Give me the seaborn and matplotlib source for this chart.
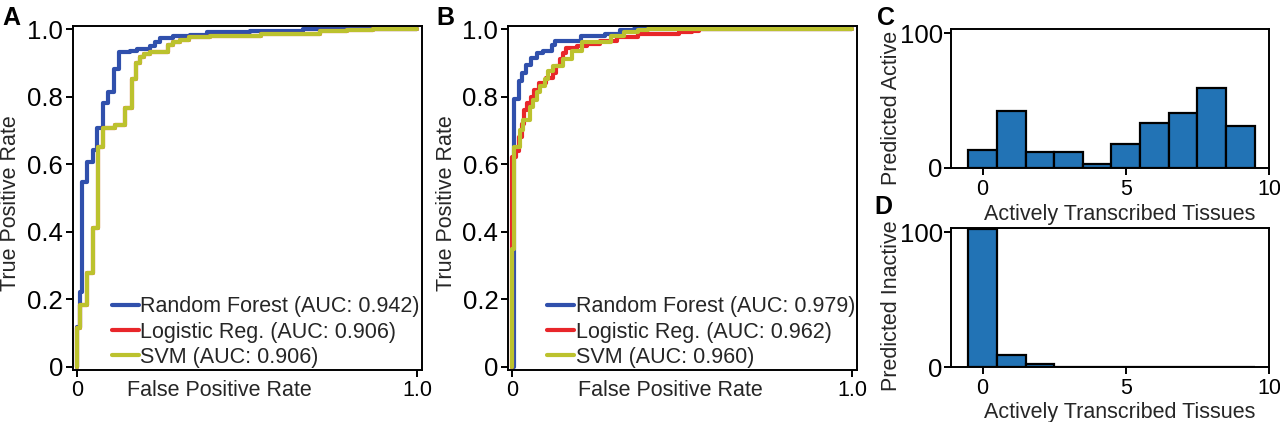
import matplotlib
matplotlib.use('Agg')
import matplotlib.pyplot as plt
import seaborn as sns
import pandas as pd

# ROC curve corner points (panel A: first test set)
rf_a_fpr = [0, 0, 0.009, 0.016, 0.028, 0.046, 0.060, 0.077, 0.092, 0.109, 0.124, 0.156, 0.175,
            0.215, 0.229, 0.244, 0.283, 0.332, 0.381, 0.51, 0.665, 1.0]
rf_a_tpr = [0, 0.118, 0.222, 0.548, 0.607, 0.642, 0.706, 0.780, 0.814, 0.883, 0.932, 0.935, 0.940,
            0.950, 0.962, 0.972, 0.979, 0.982, 0.990, 0.994, 1.0, 1.0]
svm_a_fpr = [0, 0, 0.009, 0.028, 0.046, 0.063, 0.077, 0.112, 0.141, 0.161, 0.174, 0.185, 0.197,
             0.215, 0.269, 0.283, 0.303, 0.33, 0.39, 0.54, 0.715, 0.793, 0.87, 1.0]
svm_a_tpr = [0, 0.115, 0.183, 0.278, 0.41, 0.652, 0.706, 0.716, 0.765, 0.853, 0.90, 0.917, 0.926,
             0.931, 0.953, 0.962, 0.969, 0.975, 0.98, 0.985, 0.993, 0.997, 1.0, 1.0]
# logistic regression sits exactly under the SVM curve in panel A
lr_a_fpr = svm_a_fpr
lr_a_tpr = svm_a_tpr

# panel B
rf_b_fpr = [0, 0.005, 0.007, 0.02, 0.030, 0.040, 0.056, 0.072, 0.092, 0.116, 0.126, 0.204,
            0.273, 0.317, 0.36, 1.0]
rf_b_tpr = [0, 0.65, 0.793, 0.846, 0.870, 0.895, 0.915, 0.929, 0.934, 0.953, 0.966, 0.980,
            0.986, 0.996, 1.0, 1.0]
lr_b_fpr = [0, 0, 0, 0.01, 0.02, 0.03, 0.035, 0.045, 0.055, 0.065, 0.08, 0.10, 0.12, 0.13, 0.14,
            0.15, 0.16, 0.19, 0.22, 0.26, 0.31, 0.37, 0.49, 0.53, 0.55, 1.0]
lr_b_tpr = [0, 0.36, 0.62, 0.64, 0.68, 0.72, 0.76, 0.78, 0.80, 0.82, 0.84, 0.855, 0.87, 0.89, 0.91,
            0.93, 0.945, 0.95, 0.955, 0.965, 0.975, 0.985, 0.99, 0.995, 1.0, 1.0]
svm_b_fpr = [0, 0, 0.007, 0.023, 0.033, 0.053, 0.062, 0.072, 0.082, 0.097, 0.106, 0.12, 0.15,
             0.175, 0.205, 0.29, 0.33, 0.37, 0.4, 1.0]
svm_b_tpr = [0, 0.35, 0.65, 0.70, 0.73, 0.77, 0.79, 0.815, 0.83, 0.853, 0.875, 0.89, 0.91,
             0.935, 0.962, 0.978, 0.99, 0.997, 1.0, 1.0]

labels_a = ['Random Forest (AUC: 0.942)', 'Logistic Reg. (AUC: 0.906)', 'SVM (AUC: 0.906)']
labels_b = ['Random Forest (AUC: 0.979)', 'Logistic Reg. (AUC: 0.962)', 'SVM (AUC: 0.960)']
colors = ['#3050ac', '#e8262a', '#bcc22e']

# histogram counts per number of actively transcribed tissues
tissues = [0, 1, 2, 3, 4, 5, 6, 7, 8, 9]
pred_active = [13, 42, 12, 12, 3, 18, 33, 41, 59, 31]
pred_inactive = [102, 9, 2, 0, 0, 0, 0, 0, 0, 0]

sns.set_style('ticks')
plt.rcParams['font.family'] = ['Liberation Sans', 'DejaVu Sans']
plt.rcParams['axes.linewidth'] = 1.4
plt.rcParams['axes.edgecolor'] = 'black'

fig = plt.figure(figsize=(12.8, 4.22), dpi=100)
axA = fig.add_axes([0.057, 0.1232, 0.2727, 0.8152])
axB = fig.add_axes([0.3969, 0.1232, 0.2727, 0.8152])
axC = fig.add_axes([0.743, 0.6019, 0.2484, 0.3294])
axD = fig.add_axes([0.743, 0.1303, 0.2484, 0.3294])


def roc_panel(ax, curves, labels, xlab_x, ylab_x):
    for (fpr, tpr), lab, col in zip(curves, labels, colors):
        sns.lineplot(x=fpr, y=tpr, ax=ax, color=col, lw=3.0, label=lab,
                     estimator=None, sort=False, drawstyle='steps-post')
    ax.set_xlim(-0.012, 1.015)
    ax.set_ylim(-0.009, 1.009)
    ax.set_xticks([0, 1.0])
    ax.set_xticklabels(['0', '1.0'])
    ax.set_yticks([0, 0.2, 0.4, 0.6, 0.8, 1.0])
    ax.set_yticklabels(['0', '0.2', '0.4', '0.6', '0.8', '1.0'])
    ax.tick_params(length=5, width=1.4, pad=2, colors='black')
    ax.tick_params(axis='x', labelsize=15.5)
    ax.tick_params(axis='y', labelsize=18.5)
    ax.set_xlabel('False Positive Rate', fontsize=15.5)
    ax.set_ylabel('True Positive Rate', fontsize=15.5)
    ax.xaxis.set_label_coords(xlab_x, -0.03)
    ax.yaxis.set_label_coords(ylab_x, 0.485)
    ax.legend(loc='lower right', bbox_to_anchor=(1.0, 0.0), frameon=False, fontsize=15.5,
              handlelength=1.25, handletextpad=0.08, labelspacing=0.2, borderaxespad=0.1,
              borderpad=0)


roc_panel(axA, [(rf_a_fpr, rf_a_tpr), (lr_a_fpr, lr_a_tpr), (svm_a_fpr, svm_a_tpr)],
          labels_a, 0.42, -0.15)
roc_panel(axB, [(rf_b_fpr, rf_b_tpr), (lr_b_fpr, lr_b_tpr), (svm_b_fpr, svm_b_tpr)],
          labels_b, 0.466, -0.146)


def hist_panel(ax, counts, ylab, ylab_y, xlab_y):
    sns.histplot(x=tissues, weights=counts, discrete=True, ax=ax, color='#2273b5',
                 edgecolor='black', linewidth=1.6, alpha=1)
    ax.set_xlim(-1.1, 10.0)
    ax.set_ylim(0, 103)
    ax.set_xticks([0, 5, 10])
    ax.set_yticks([0, 100])
    ax.tick_params(length=5, width=1.4, pad=3, colors='black')
    ax.tick_params(axis='x', labelsize=15.5)
    ax.tick_params(axis='y', labelsize=18.5, pad=1)
    ax.set_xlabel('Actively Transcribed Tissues', fontsize=15.5)
    ax.set_ylabel(ylab, fontsize=15.5)
    ax.xaxis.set_label_coords(0.53, xlab_y)
    ax.yaxis.set_label_coords(-0.154, ylab_y)


hist_panel(axC, pred_active, 'Predicted Active', 0.43, -0.26)
hist_panel(axD, pred_inactive, 'Predicted Inactive', 0.44, -0.25)

for lab, x, y in [('A', 0.002, 0.94), ('B', 0.341, 0.94), ('C', 0.685, 0.94), ('D', 0.683, 0.492)]:
    fig.text(x, y, lab, fontsize=18, fontweight='bold', color='black')

fig.savefig('out.png', dpi=100)
